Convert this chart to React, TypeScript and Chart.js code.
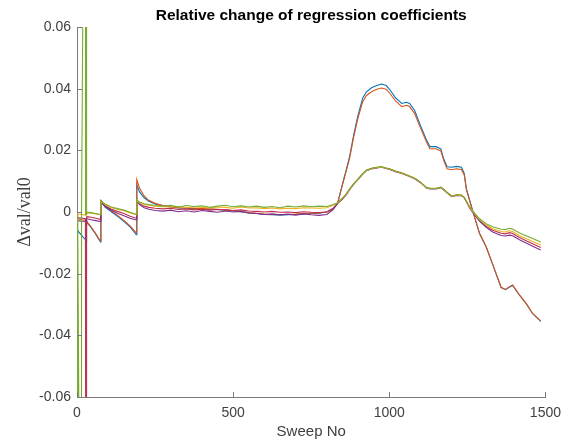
import React, { useEffect, useRef } from "react";
import { Chart, registerables } from "chart.js";

Chart.register(...registerables);

const TITLE = "Relative change of regression coefficients";
const X_LABEL = "Sweep No";
const Y_LABEL = "Δval/val0";
const X_MIN = 0;
const X_MAX = 1500;
const X_STEP = 500;
const Y_MIN = -0.06;
const Y_MAX = 0.06;
const Y_STEP = 0.02;

const SWEEPS = [
  0, 2, 2.5, 14, 14.5, 27, 27.5, 29, 29.5, 31,
  31.5, 33, 45, 60, 75, 76.5, 90, 110, 130, 150,
  170, 190, 191.5, 200, 215, 230, 250, 275, 300, 325,
  350, 375, 400, 425, 450, 475, 500, 525, 550, 575,
  600, 625, 650, 675, 700, 725, 750, 775, 800, 820,
  835, 850, 863, 873, 886, 899, 915, 927, 943, 960,
  975, 990, 1001, 1020, 1040, 1055, 1065, 1081, 1100, 1119,
  1130, 1150, 1165, 1175, 1185, 1200, 1215, 1231, 1240, 1247,
  1257, 1266, 1289, 1310, 1331, 1358, 1372, 1385, 1395, 1417,
  1440, 1459, 1485,
];

const COEF_BLUE = [
  -0.0055, -0.006, -0.006, -0.0075, -0.0075, -0.009, -0.009, -0.0093, -0.0094, -0.003,
  -0.003, -0.0036, -0.005, -0.0072, -0.0097, 0.0034, 0.0016, 0.0001, -0.0014, -0.003,
  -0.0048, -0.0074, 0.0088, 0.0066, 0.0046, 0.0035, 0.0026, 0.002, 0.0016, 0.0013,
  0.0012, 0.0011, 0.001, 0.0009, 0.0008, 0.0006, 0.0004, 0.0001, -0.0003, -0.0005,
  -0.0008, -0.0009, -0.001, -0.0009, -0.0008, -0.0006, -0.0005, -0.0004, 0.0, 0.001,
  0.003, 0.009, 0.014, 0.018, 0.025, 0.031, 0.037, 0.039, 0.0403, 0.041,
  0.0415, 0.041, 0.0398, 0.037, 0.0352, 0.0356, 0.0352, 0.033, 0.028, 0.0234,
  0.0212, 0.0212, 0.0205, 0.017, 0.0147, 0.0145, 0.0148, 0.0145, 0.0125, 0.0075,
  0.004, 0.0008, -0.007, -0.0113, -0.017, -0.0245, -0.0252, -0.0243, -0.0238, -0.027,
  -0.03, -0.033, -0.0355,
];

const COEF_ORANGE = [
  -0.0022, -0.0022, -0.0022, -0.0025, -0.0025, -0.0027, -0.0027, -0.0028, -0.0028, -0.0026,
  -0.0027, -0.0033, -0.0048, -0.007, -0.0094, 0.0038, 0.002, 0.0004, -0.0011, -0.0027,
  -0.0045, -0.0068, 0.0105, 0.0078, 0.0052, 0.0038, 0.0028, 0.0021, 0.0017, 0.0014,
  0.0013, 0.0012, 0.0011, 0.001, 0.0009, 0.0007, 0.0005, 0.0002, -0.0002, -0.0004,
  -0.0007, -0.0008, -0.0009, -0.0008, -0.0007, -0.0005, -0.0004, -0.0003, 0.0001, 0.001,
  0.003, 0.0088, 0.0136, 0.0175, 0.0243, 0.0302, 0.0358, 0.0378, 0.039, 0.0398,
  0.0402, 0.0398, 0.0386, 0.036, 0.0342, 0.0346, 0.0342, 0.032, 0.0272, 0.0228,
  0.0205, 0.0205, 0.0198, 0.0165, 0.014, 0.0137, 0.014, 0.0138, 0.012, 0.0072,
  0.0038, 0.0007, -0.0069, -0.0112, -0.0169, -0.0244, -0.0251, -0.0242, -0.0237, -0.0269,
  -0.0299, -0.0329, -0.0354,
];

const COEF_YELLOW = [
  -0.0006, -0.0006, -0.0006, -0.0008, -0.0008, -0.001, -0.001, -0.001, -0.001, -0.0004,
  -0.0004, -0.0003, -0.0004, -0.0006, -0.0009, 0.0034, 0.0024, 0.0014, 0.0009, 0.0004,
  -0.0003, -0.0009, 0.0038, 0.003, 0.0025, 0.0022, 0.0019, 0.0017, 0.0016, 0.0018,
  0.0014, 0.0017, 0.0015, 0.0013, 0.0016, 0.0015, 0.0012, 0.0016, 0.0013, 0.0014,
  0.0011, 0.0013, 0.001, 0.0012, 0.0011, 0.0014, 0.0013, 0.0012, 0.0014, 0.0022,
  0.003, 0.0044, 0.0059, 0.0074, 0.0091, 0.0105, 0.0124, 0.0135, 0.0141, 0.0144,
  0.0146, 0.0142, 0.0139, 0.0132, 0.0126, 0.012, 0.0116, 0.0109, 0.0096, 0.0079,
  0.0076, 0.0076, 0.008, 0.0072, 0.0063, 0.0051, 0.0055, 0.0054, 0.0047, 0.0034,
  0.0016, 0.0003, -0.0025, -0.0042, -0.0054, -0.0063, -0.0065, -0.0061, -0.0063, -0.0077,
  -0.0087, -0.0096, -0.0107,
];

const COEF_PURPLE = [
  -0.0028, -0.0028, -0.0028, -0.003, -0.003, -0.003, -0.003, -0.003, -0.003, -0.0022,
  -0.0022, -0.0022, -0.0025, -0.0028, -0.0031, 0.0032, 0.0018, 0.0006, -0.0004, -0.0012,
  -0.002, -0.0026, 0.0036, 0.0024, 0.0014, 0.0009, 0.0005, 0.0003, 0.0006, 0.0001,
  0.0004, 0.0, 0.0005, 0.0002, -0.0001, 0.0003, 0.0, 0.0002, -0.0003, -0.0005,
  -0.0008, -0.0006, -0.0009, -0.0007, -0.001, -0.0006, -0.0009, -0.0011, -0.0008, 0.0008,
  0.0028, 0.0042, 0.0057, 0.0072, 0.009, 0.0104, 0.0123, 0.0134, 0.014, 0.0143,
  0.0145, 0.0141, 0.0138, 0.0131, 0.0125, 0.0119, 0.0115, 0.0108, 0.0095, 0.0078,
  0.0075, 0.0075, 0.0079, 0.0071, 0.0062, 0.005, 0.0054, 0.0053, 0.0046, 0.0033,
  0.0014, 0.0, -0.003, -0.005, -0.0065, -0.0076, -0.0078, -0.0075, -0.0077, -0.009,
  -0.0101, -0.0111, -0.0123,
];

const COEF_GREEN = [
  -0.001, -0.2, -0.0012, -0.2, -0.0012, 0.2, -0.0008, -0.0008, -0.0008, 0.2,
  0.0, 0.0, -0.0002, -0.0005, -0.0008, 0.0036, 0.0026, 0.0016, 0.0011, 0.0006,
  -0.0001, -0.0007, 0.004, 0.0032, 0.0027, 0.0024, 0.0021, 0.0019, 0.0022, 0.0016,
  0.0021, 0.0018, 0.002, 0.0015, 0.0019, 0.0022, 0.0017, 0.002, 0.0016, 0.0019,
  0.0015, 0.0018, 0.0014, 0.0019, 0.0016, 0.002, 0.0017, 0.0019, 0.0018, 0.0024,
  0.003, 0.0045, 0.006, 0.0075, 0.0092, 0.0106, 0.0125, 0.0136, 0.0142, 0.0145,
  0.0147, 0.0143, 0.014, 0.0133, 0.0127, 0.0121, 0.0117, 0.011, 0.0097, 0.008,
  0.0077, 0.0077, 0.0081, 0.0073, 0.0064, 0.0052, 0.0056, 0.0055, 0.0048, 0.0035,
  0.0018, 0.0005, -0.0022, -0.0038, -0.0048, -0.0056, -0.0057, -0.0053, -0.0055, -0.0068,
  -0.0078, -0.0086, -0.0097,
];

const COEF_DARKRED = [
  -0.0018, -0.0018, -0.0018, -0.002, -0.002, -0.0022, -0.0022, -0.2, -0.0016, -0.0016,
  -0.0016, -0.0015, -0.0017, -0.002, -0.0024, 0.0033, 0.002, 0.0009, 0.0002, -0.0005,
  -0.0014, -0.002, 0.0037, 0.0027, 0.0019, 0.0015, 0.0012, 0.001, 0.0012, 0.0008,
  0.001, 0.0007, 0.0009, 0.0006, 0.0008, 0.0007, 0.0005, 0.0007, 0.0003, 0.0002,
  0.0, 0.0002, -0.0001, 0.0, -0.0002, 0.0001, -0.0001, -0.0002, 0.0, 0.0012,
  0.0029, 0.0043, 0.0058, 0.0073, 0.0091, 0.0105, 0.0124, 0.0135, 0.0141, 0.0144,
  0.0146, 0.0142, 0.0139, 0.0132, 0.0126, 0.012, 0.0116, 0.0109, 0.0096, 0.0079,
  0.0076, 0.0076, 0.008, 0.0072, 0.0063, 0.0051, 0.0055, 0.0054, 0.0047, 0.0034,
  0.0015, 0.0002, -0.0028, -0.0046, -0.0059, -0.0069, -0.0071, -0.0067, -0.007, -0.0083,
  -0.0094, -0.0103, -0.0115,
];

// listed bottom-to-top (first series is drawn underneath)
const SERIES = [
  { name: "c1", values: COEF_BLUE, color: "#0072BD" },
  { name: "c2", values: COEF_ORANGE, color: "#D95319" },
  { name: "c6", values: COEF_DARKRED, color: "#C0304A" },
  { name: "c4", values: COEF_PURPLE, color: "#7E2F8E" },
  { name: "c3", values: COEF_YELLOW, color: "#EDB120" },
  { name: "c5", values: COEF_GREEN, color: "#77AC30" },
];

const AXIS_COLOR = "#7a7a7a";
const TEXT_COLOR = "#404040";
const SANS = "'Liberation Sans', Arial, Helvetica, sans-serif";

const inwardTicks = {
  id: "inwardTicks",
  afterDraw(chart: any) {
    const { ctx, chartArea, scales } = chart;
    ctx.save();
    ctx.strokeStyle = AXIS_COLOR;
    ctx.lineWidth = 1;
    const len = 5;
    scales.x.ticks.forEach((t: any) => {
      const px = Math.round(scales.x.getPixelForValue(t.value)) + 0.5;
      ctx.beginPath();
      ctx.moveTo(px, chartArea.bottom);
      ctx.lineTo(px, chartArea.bottom - len);
      ctx.stroke();
    });
    scales.y.ticks.forEach((t: any) => {
      const py = Math.round(scales.y.getPixelForValue(t.value)) + 0.5;
      ctx.beginPath();
      ctx.moveTo(chartArea.left, py);
      ctx.lineTo(chartArea.left + len, py);
      ctx.stroke();
    });
    ctx.restore();
  },
};

export default function App() {
  const ref = useRef<HTMLCanvasElement>(null);

  useEffect(() => {
    if (!ref.current) return;
    const datasets = SERIES.slice()
      .reverse()
      .map((s) => ({
        label: s.name,
        data: SWEEPS.map((x, i) => ({ x, y: s.values[i] })),
        borderColor: s.color,
        backgroundColor: s.color,
        borderWidth: 1.1,
        pointRadius: 0,
        tension: 0,
        fill: false,
        clip: 0,
      }));

    const chart = new Chart(ref.current, {
      type: "line",
      data: { datasets },
      plugins: [inwardTicks],
      options: {
        animation: false,
        responsive: false,
        devicePixelRatio: 1,
        parsing: false as any,
        layout: { padding: { left: 0, right: 22.5, top: 0, bottom: 0 } },
        plugins: {
          legend: { display: false },
          tooltip: { enabled: false },
          title: {
            display: true,
            text: TITLE,
            fullSize: false,
            color: "#000",
            font: { family: SANS, size: 15.5, weight: "bold", lineHeight: 1.2 },
            padding: { top: 6, bottom: 2.4 },
          },
        },
        scales: {
          x: {
            type: "linear",
            min: X_MIN,
            max: X_MAX,
            grid: { display: true, drawOnChartArea: false, drawTicks: false },
            border: { display: true, color: AXIS_COLOR, width: 1 },
            ticks: {
              stepSize: X_STEP,
              color: TEXT_COLOR,
              padding: 8,
              maxRotation: 0,
              font: { family: SANS, size: 14 },
              callback: (v: any) => String(v),
            },
            title: {
              display: true,
              text: X_LABEL,
              color: TEXT_COLOR,
              font: { family: SANS, size: 15, lineHeight: 1.2 },
              padding: { top: 0, bottom: 2 },
            },
            afterFit: (scale: any) => {
              scale.height = 46;
            },
          },
          y: {
            type: "linear",
            min: Y_MIN,
            max: Y_MAX,
            grid: { display: true, drawOnChartArea: false, drawTicks: false },
            border: { display: true, color: AXIS_COLOR, width: 1 },
            ticks: {
              stepSize: Y_STEP,
              color: TEXT_COLOR,
              padding: 6,
              font: { family: SANS, size: 14 },
              callback: (v: any) => String(+Number(v).toFixed(2)),
            },
            title: {
              display: true,
              text: Y_LABEL,
              color: TEXT_COLOR,
              font: { family: "'Liberation Serif', 'Times New Roman', serif", size: 18, lineHeight: 1.2 },
              padding: { top: 14, bottom: 0 },
            },
            afterFit: (scale: any) => {
              scale.width = 77;
            },
          },
        },
      } as any,
    });
    return () => chart.destroy();
  }, []);

  return (
    <div style={{ position: "fixed", left: 0, top: 0, width: 569, height: 443, background: "#fff" }}>
      <canvas ref={ref} width={569} height={443} style={{ display: "block", width: 569, height: 443 }} />
    </div>
  );
}
